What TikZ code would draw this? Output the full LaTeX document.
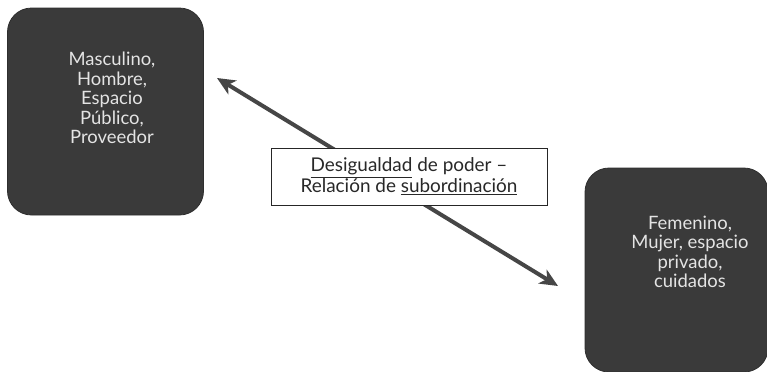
\documentclass[tikz,border=0pt]{standalone}
\usepackage{fontspec}
\setmainfont{Lato}
\usetikzlibrary{arrows.meta}
\definecolor{boxfill}{RGB}{58,58,58}
\definecolor{boxtext}{RGB}{228,228,228}
\definecolor{arrowcol}{RGB}{70,70,70}
\definecolor{labeltext}{RGB}{40,40,40}
\tikzset{
  darkbox/.style={draw=boxfill!80!black, line width=0.8bp, fill=boxfill, rounded corners=24bp, inner sep=0pt},
  boxlabel/.style={text=boxtext, align=center, font=\fontsize{18.5}{19.5}\selectfont},
  relbox/.style={draw=black!85, line width=0.9bp, fill=white, inner sep=0pt, minimum width=276bp, minimum height=57bp, align=center, text=labeltext, font=\fontsize{19}{21}\selectfont},
  dblarrow/.style={arrowcol, line width=4bp, {Stealth[length=18bp,width=16bp,inset=5bp]}-{Stealth[length=18bp,width=16bp,inset=5bp]}}
}
\begin{document}
\begin{tikzpicture}[x=1bp,y=-1bp]
\useasboundingbox (0,0) rectangle (767,371);
\node[darkbox, minimum width=196bp, minimum height=207bp] (left) at (105.5,111.5) {};
\node[boxlabel] (lefttxt) at (112,98) {Masculino,\\Hombre,\\Espacio\\Público,\\Proveedor};
\node[darkbox, minimum width=183bp, minimum height=204bp] (right) at (676.5,270) {};
\node[boxlabel] (righttxt) at (690,252) {Femenino,\\Mujer, espacio\\privado,\\cuidados};
\coordinate (p1) at (217,78);
\coordinate (p2) at (558,286);
\draw[dblarrow] (p1) -- (p2);
\node[relbox] (rel) at (409,176.5) {\underline{Desigualdad} de poder –\\Relación de \underline{subordinación}};
\end{tikzpicture}
\end{document}
